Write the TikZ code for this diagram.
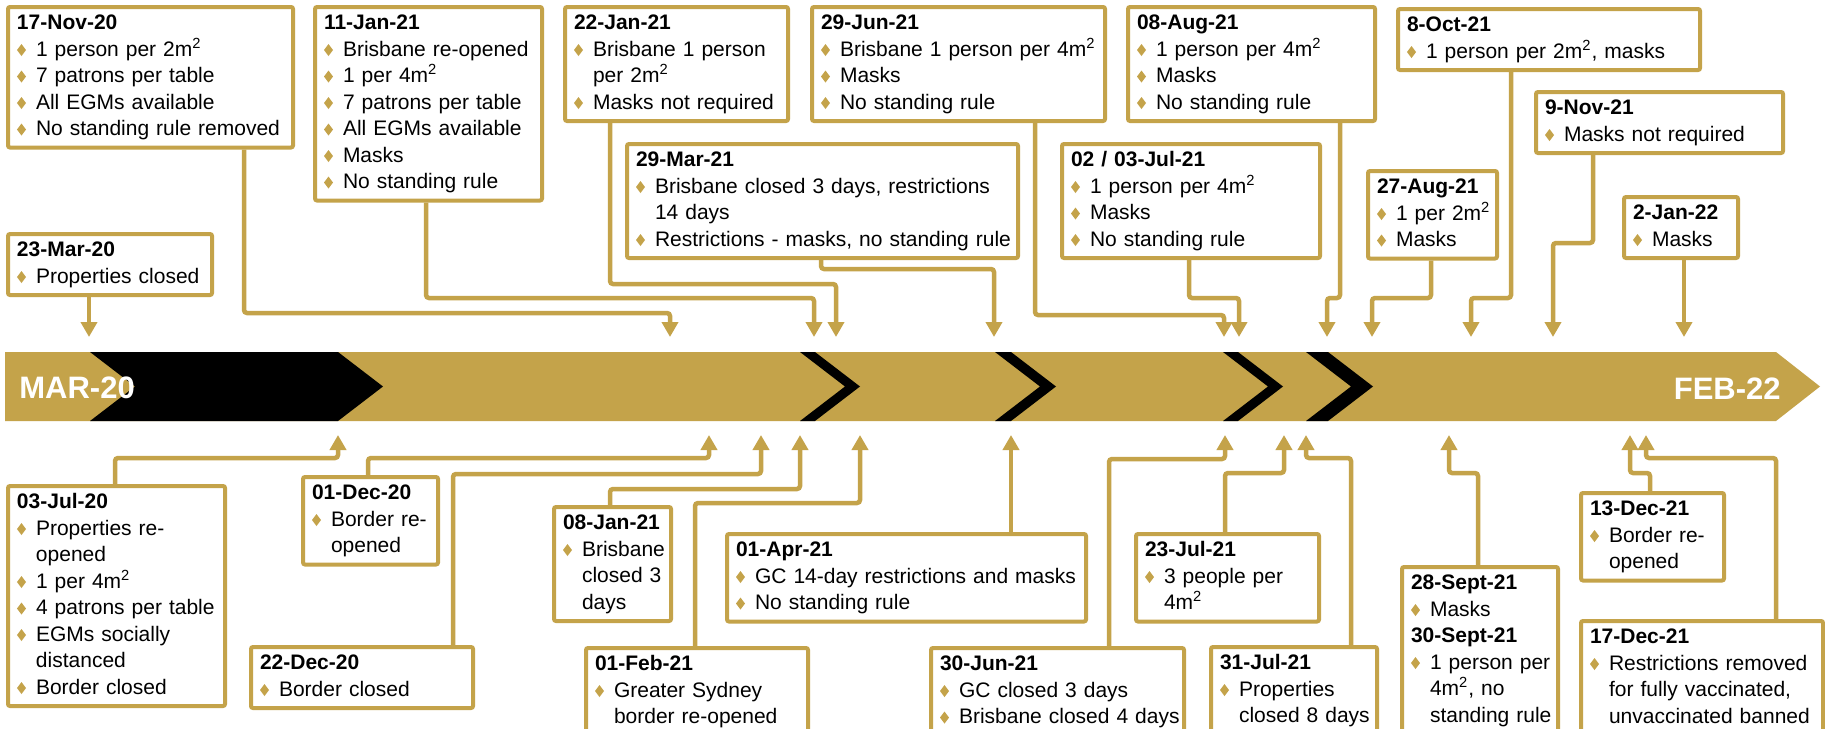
\documentclass[tikz,border=0pt]{standalone}
\usepackage{fontspec}
\setmainfont{Liberation Sans}
\usepackage{graphicx}
\usetikzlibrary{arrows.meta}
\definecolor{gold}{RGB}{196,163,74}
\newcommand{\dia}{\textcolor{gold}{\scalebox{0.75}[1]{\rotatebox{45}{\rule{4.25pt}{4.25pt}}}}}
\newcommand{\evt}[1]{\noindent\textbf{#1}\strut\par}
\newcommand{\itm}[1]{\noindent\makebox[9.5pt][l]{\dia}\mbox{#1}\strut\par}
\newcommand{\cnt}[1]{\noindent\hspace*{9.5pt}\mbox{#1}\strut\par}
\newcommand{\sq}{m\textsuperscript{2}}
\tikzset{
  evbox/.style={draw=gold, line width=2pt, fill=white, anchor=north west,
    rounded corners=1pt, inner xsep=4.5pt, inner ysep=2pt, align=left,
    text width=#1, font=\fontsize{10.5pt}{13.25pt}\selectfont},
  conn/.style={draw=gold, line width=2.25pt, rounded corners=1.5pt,
    -{Triangle[width=8pt,length=7.5pt]}},
  chev/.style={fill=black},
  barlabel/.style={text=white, inner sep=0pt,
    font=\fontsize{15.5pt}{18pt}\selectfont\bfseries}
}
\begin{document}
\begin{tikzpicture}[x=0.5pt,y=-0.5pt]
    \fill[white] (0,0) rectangle (1825,728);
    \path[use as bounding box] (0,0) rectangle (1825,728);
    \clip (0,0) rectangle (1825,728);
    % timeline bar
    \fill[gold] (5,352) -- (1776,352) -- (1820,386.5) -- (1776,421) -- (5,421) -- cycle;
    \foreach \a/\b in {90/338, 800/815, 995/1011, 1223/1238, 1306/1328}
        \fill[chev] (\a,352) -- (\b,352) -- (\b+45,386.5) -- (\b,421) -- (\a,421) -- (\a+45,386.5) -- cycle;
    \node[barlabel, anchor=base west] (lmar) at (19,398) {MAR-20};
    \node[barlabel, anchor=base east] (lfeb) at (1781,399) {FEB-22};
    % arrow ends on the bar
    \coordinate (t23mar) at (89,337);
    \coordinate (t17nov) at (670,337);
    \coordinate (t11jan) at (814,337);
    \coordinate (t22jan) at (836,337);
    \coordinate (t29mar) at (994,337);
    \coordinate (t29jun) at (1224,337);
    \coordinate (t03jul21) at (1239,337);
    \coordinate (t08aug) at (1327,337);
    \coordinate (t27aug) at (1372,337);
    \coordinate (t08oct) at (1471,337);
    \coordinate (t09nov) at (1553,337);
    \coordinate (t02jan) at (1684,337);
    \coordinate (b03jul) at (338,435);
    \coordinate (b01dec) at (709,435);
    \coordinate (b22dec) at (761,435);
    \coordinate (b08jan) at (800,435);
    \coordinate (b01feb) at (860,435);
    \coordinate (b01apr) at (1011,435);
    \coordinate (b30jun) at (1225,435);
    \coordinate (b23jul) at (1284,435);
    \coordinate (b31jul) at (1306,435);
    \coordinate (b28sep) at (1449,435);
    \coordinate (b13dec) at (1630,435);
    \coordinate (b17dec) at (1646,435);
    % events above
    \node[evbox=133.5pt] (n17nov) at (6,5) {\evt{17-Nov-20}\itm{1 person per 2\sq}\itm{7 patrons per table}\itm{All EGMs available}\itm{No standing rule removed}};
    \node[evbox=104.5pt] (n11jan) at (313,5) {\evt{11-Jan-21}\itm{Brisbane re-opened}\itm{1 per 4\sq}\itm{7 patrons per table}\itm{All EGMs available}\itm{Masks}\itm{No standing rule}};
    \node[evbox=102.5pt] (n22jan) at (563,5) {\evt{22-Jan-21}\itm{Brisbane 1 person}\cnt{per 2\sq}\itm{Masks not required}};
    \node[evbox=137.5pt] (n29jun) at (810,5) {\evt{29-Jun-21}\itm{Brisbane 1 person per 4\sq}\itm{Masks}\itm{No standing rule}};
    \node[evbox=114.5pt] (n08aug) at (1126,5) {\evt{08-Aug-21}\itm{1 person per 4\sq}\itm{Masks}\itm{No standing rule}};
    \node[evbox=142pt] (n08oct) at (1396,7) {\evt{8-Oct-21}\itm{1 person per 2\sq, masks}};
    \node[evbox=114.5pt] (n09nov) at (1534,90) {\evt{9-Nov-21}\itm{Masks not required}};
    \node[evbox=186.5pt] (n29mar) at (625,142) {\evt{29-Mar-21}\itm{Brisbane closed 3 days, restrictions}\cnt{14 days}\itm{Restrictions - masks, no standing rule}};
    \node[evbox=120pt] (n03jul21) at (1060,142) {\evt{02 / 03-Jul-21}\itm{1 person per 4\sq}\itm{Masks}\itm{No standing rule}};
    \node[evbox=55.5pt] (n27aug) at (1366,169) {\evt{27-Aug-21}\itm{1 per 2\sq}\itm{Masks}};
    \node[evbox=48pt] (n02jan) at (1622,195) {\evt{2-Jan-22}\itm{Masks}};
    \node[evbox=93pt] (n23mar) at (6,232) {\evt{23-Mar-20}\itm{Properties closed}};
    % events below
    \node[evbox=99.5pt] (n03jul) at (6,484) {\evt{03-Jul-20}\itm{Properties re-}\cnt{opened}\itm{1 per 4\sq}\itm{4 patrons per table}\itm{EGMs socially}\cnt{distanced}\itm{Border closed}};
    \node[evbox=58.5pt] (n01dec) at (301,475) {\evt{01-Dec-20}\itm{Border re-}\cnt{opened}};
    \node[evbox=102pt] (n22dec) at (249,645) {\evt{22-Dec-20}\itm{Border closed}};
    \node[evbox=49.5pt] (n08jan) at (552,505) {\evt{08-Jan-21}\itm{Brisbane}\cnt{closed 3}\cnt{days}};
    \node[evbox=102pt] (n01feb) at (584,646) {\evt{01-Feb-21}\itm{Greater Sydney}\cnt{border re-opened}};
    \node[evbox=170.5pt] (n01apr) at (725,532) {\evt{01-Apr-21}\itm{GC 14-day restrictions and masks}\itm{No standing rule}};
    \node[evbox=117.5pt] (n30jun) at (929,646) {\evt{30-Jun-21}\itm{GC closed 3 days}\itm{Brisbane closed 4 days}};
    \node[evbox=82.5pt] (n23jul) at (1134,532) {\evt{23-Jul-21}\itm{3 people per}\cnt{4\sq}};
    \node[evbox=74pt] (n31jul) at (1209,645) {\evt{31-Jul-21}\itm{Properties}\cnt{closed 8 days}};
    \node[evbox=69pt] (n28sep) at (1400,565) {\evt{28-Sept-21}\itm{Masks}\evt{30-Sept-21}\itm{1 person per}\cnt{4\sq, no}\cnt{standing rule}};
    \node[evbox=62.5pt] (n13dec) at (1579,491) {\evt{13-Dec-21}\itm{Border re-}\cnt{opened}};
    \node[evbox=112pt] (n17dec) at (1579,619) {\evt{17-Dec-21}\itm{Restrictions removed}\cnt{for fully vaccinated,}\cnt{unvaccinated banned}};
    % connectors
    \draw[conn] (n23mar.south -| t23mar) -- (t23mar);
    \draw[conn] (n17nov.south -| 244,0) -- (244,313) -| (t17nov);
    \draw[conn] (n11jan.south -| 426,0) -- (426,298) -| (t11jan);
    \draw[conn] (n22jan.south -| 610,0) -- (610,284) -| (t22jan);
    \draw[conn] (n29mar.south -| 821,0) -- (821,269) -| (t29mar);
    \draw[conn] (n29jun.south -| 1035,0) -- (1035,315) -| (t29jun);
    \draw[conn] (n03jul21.south -| 1189,0) -- (1189,298) -| (t03jul21);
    \draw[conn] (n08aug.south -| 1340,0) -- (1340,298) -| (t08aug);
    \draw[conn] (n27aug.south -| 1431,0) -- (1431,298) -| (t27aug);
    \draw[conn] (n08oct.south -| 1511,0) -- (1511,298) -| (t08oct);
    \draw[conn] (n09nov.south -| 1593,0) -- (1593,243) -| (t09nov);
    \draw[conn] (n02jan.south -| t02jan) -- (t02jan);
    \draw[conn] (n03jul.north -| 115,0) -- (115,458) -| (b03jul);
    \draw[conn] (n01dec.north -| 368,0) -- (368,458) -| (b01dec);
    \draw[conn] (n22dec.north -| 453,0) -- (453,474) -| (b22dec);
    \draw[conn] (n08jan.north -| 610,0) -- (610,489) -| (b08jan);
    \draw[conn] (n01feb.north -| 695,0) -- (695,503) -| (b01feb);
    \draw[conn] (n01apr.north -| b01apr) -- (b01apr);
    \draw[conn] (n30jun.north -| 1109,0) -- (1109,459) -| (b30jun);
    \draw[conn] (n23jul.north -| 1225,0) -- (1225,473) -| (b23jul);
    \draw[conn] (n31jul.north -| 1351,0) -- (1351,458) -| (b31jul);
    \draw[conn] (n28sep.north -| 1478,0) -- (1478,473) -| (b28sep);
    \draw[conn] (n13dec.north -| 1650,0) -- (1650,473) -| (b13dec);
    \draw[conn] (n17dec.north -| 1776,0) -- (1776,458) -| (b17dec);
\end{tikzpicture}
\end{document}
